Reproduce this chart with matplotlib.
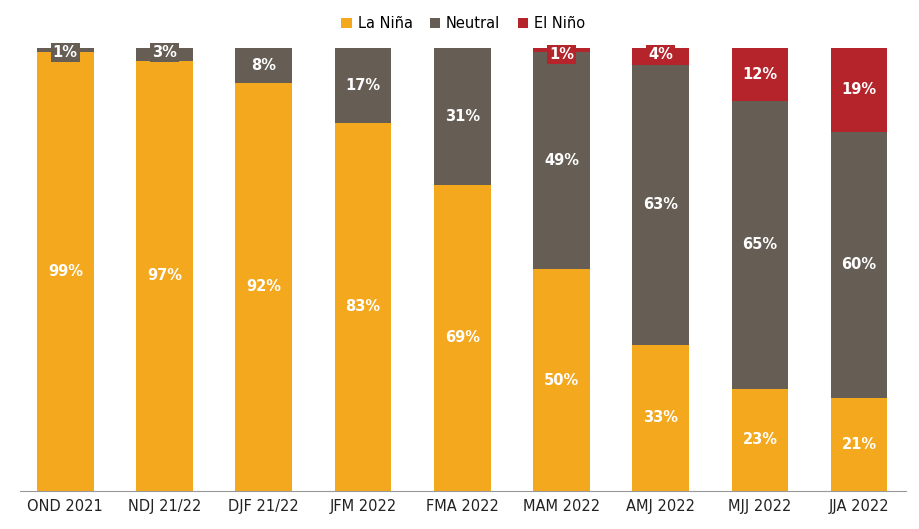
import matplotlib.pyplot as plt
import numpy as np

categories = ["OND 2021", "NDJ 21/22", "DJF 21/22", "JFM 2022", "FMA 2022",
              "MAM 2022", "AMJ 2022", "MJJ 2022", "JJA 2022"]
la_nina = [99, 97, 92, 83, 69, 50, 33, 23, 21]
neutral = [1, 3, 8, 17, 31, 49, 63, 65, 60]
el_nino = [0, 0, 0, 0, 0, 1, 4, 12, 19]

c_lanina = "#F4A81D"
c_neutral = "#665E55"
c_elnino = "#B5232B"

fig = plt.figure(figsize=(9.2, 5.29), dpi=100)
ax = fig.add_axes([0.022, 0.072, 0.963, 0.838])
x = np.arange(len(categories))
w = 0.57
ax.bar(x, la_nina, w, color=c_lanina, label="La Niña")
ax.bar(x, neutral, w, bottom=la_nina, color=c_neutral, label="Neutral")
bot2 = np.array(la_nina) + np.array(neutral)
ax.bar(x, el_nino, w, bottom=bot2, color=c_elnino, label="El Niño")

for i in x:
    ax.text(i, la_nina[i] / 2, f"{la_nina[i]}%", ha="center", va="center",
            color="white", fontsize=10.5, fontweight="bold")
    yn = la_nina[i] + neutral[i] / 2
    if neutral[i] < 5:
        yn = la_nina[i] + neutral[i] - 1
    ax.text(i, yn, f"{neutral[i]}%", ha="center", va="center",
            color="white", fontsize=10.5, fontweight="bold",
            bbox=dict(facecolor=c_neutral, edgecolor="none", pad=1.5) if neutral[i] < 5 else None)
    if el_nino[i] > 0:
        ye = bot2[i] + el_nino[i] / 2
        if el_nino[i] < 5:
            ye = bot2[i] + el_nino[i] - 1.5
        ax.text(i, ye, f"{el_nino[i]}%", ha="center", va="center",
                color="white", fontsize=10.5, fontweight="bold",
                bbox=dict(facecolor=c_elnino, edgecolor="none", pad=1.5) if el_nino[i] < 5 else None)

ax.set_xlim(-0.454, 8.474)
ax.set_ylim(0, 100)
ax.set_xticks(x)
ax.set_xticklabels(categories, fontsize=10.5, color="#222222")
ax.set_yticks([])
for s in ["top", "left", "right"]:
    ax.spines[s].set_visible(False)
ax.spines["bottom"].set_color("#999999")
ax.tick_params(axis="x", length=0, pad=6)
ax.legend(loc="lower center", bbox_to_anchor=(0.5, 1.015), ncol=3, frameon=False,
          fontsize=10.5, handlelength=0.7, handleheight=0.7, columnspacing=1.2,
          handletextpad=0.4, borderaxespad=0.3)
fig.savefig("out.png", dpi=100)
